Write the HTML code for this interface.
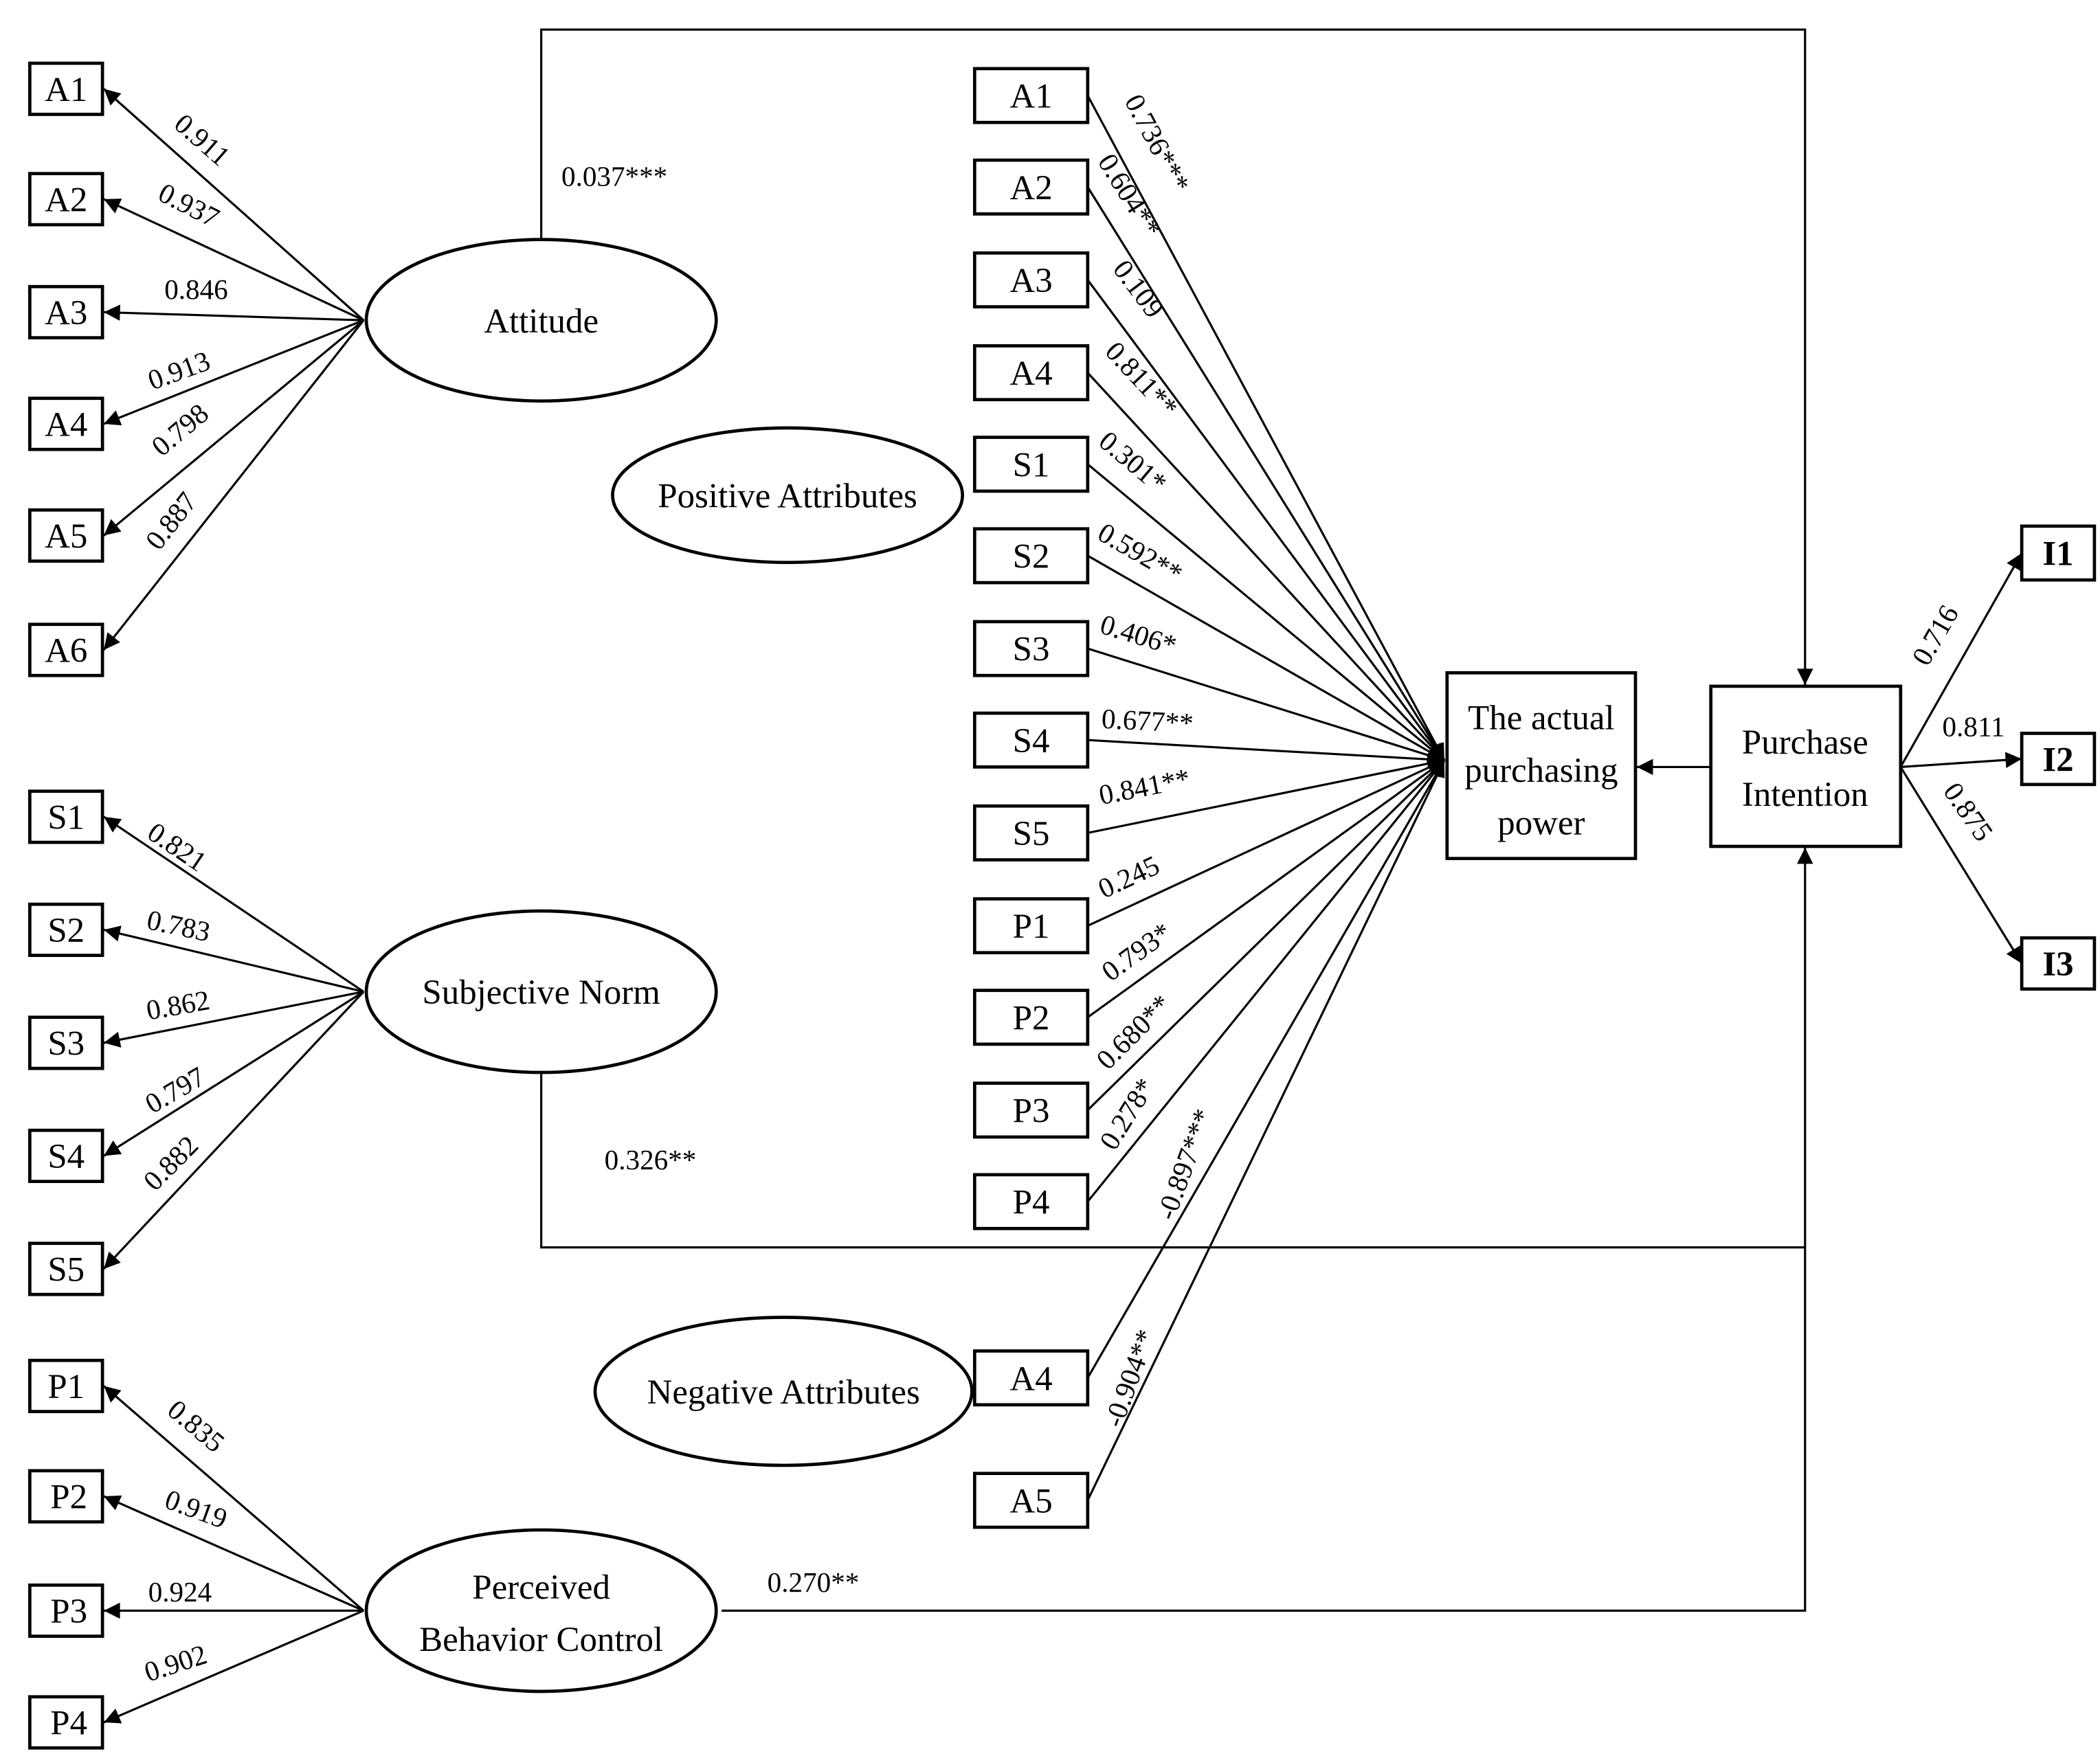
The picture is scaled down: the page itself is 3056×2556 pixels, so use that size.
<!DOCTYPE html>
<html><head><meta charset="utf-8"><style>
html,body{margin:0;padding:0;background:#fff;}
svg{display:block;}
text{font-family:"Liberation Serif",serif;fill:#000;}
</style></head><body>
<svg width="3056" height="2556" viewBox="0 0 1560 1305" xmlns="http://www.w3.org/2000/svg">
<defs>
<marker id="ar" viewBox="0 0 10 10" refX="10" refY="5" markerWidth="9" markerHeight="9" markerUnits="userSpaceOnUse" orient="auto"><path d="M0,0 L10,5 L0,10 z" fill="#000"/></marker>
<marker id="ar2" viewBox="0 0 10 10" refX="10" refY="5" markerWidth="16" markerHeight="12" markerUnits="userSpaceOnUse" orient="auto"><path d="M0,0 L10,5 L0,10 z" fill="#000"/></marker>
</defs>
<g fill="none" stroke="#000" stroke-width="1.6">
<!-- left A arrows -->
<line x1="270" y1="238" x2="77" y2="66" marker-end="url(#ar2)"/>
<line x1="270" y1="238" x2="77" y2="148" marker-end="url(#ar2)"/>
<line x1="270" y1="238" x2="77" y2="232" marker-end="url(#ar2)"/>
<line x1="270" y1="238" x2="77" y2="315" marker-end="url(#ar2)"/>
<line x1="270" y1="238" x2="77" y2="398" marker-end="url(#ar2)"/>
<line x1="270" y1="238" x2="77" y2="483" marker-end="url(#ar2)"/>
<line x1="270" y1="737" x2="77" y2="607" marker-end="url(#ar2)"/>
<line x1="270" y1="737" x2="77" y2="691" marker-end="url(#ar2)"/>
<line x1="270" y1="737" x2="77" y2="775" marker-end="url(#ar2)"/>
<line x1="270" y1="737" x2="77" y2="859" marker-end="url(#ar2)"/>
<line x1="270" y1="737" x2="77" y2="943" marker-end="url(#ar2)"/>
<line x1="270" y1="1197" x2="77" y2="1030" marker-end="url(#ar2)"/>
<line x1="270" y1="1197" x2="77" y2="1112" marker-end="url(#ar2)"/>
<line x1="270" y1="1197" x2="77" y2="1197" marker-end="url(#ar2)"/>
<line x1="270" y1="1197" x2="77" y2="1280" marker-end="url(#ar2)"/>
<!-- middle lines -->
<g marker-end="url(#ar2)">
<line x1="808" y1="71" x2="1073" y2="565"/>
<line x1="808" y1="139" x2="1073" y2="565"/>
<line x1="808" y1="208" x2="1073" y2="565"/>
<line x1="808" y1="277" x2="1073" y2="565"/>
<line x1="808" y1="345" x2="1073" y2="565"/>
<line x1="808" y1="413" x2="1073" y2="565"/>
<line x1="808" y1="482" x2="1073" y2="565"/>
<line x1="808" y1="550" x2="1073" y2="565"/>
<line x1="808" y1="619" x2="1073" y2="565"/>
<line x1="808" y1="688" x2="1073" y2="565"/>
<line x1="808" y1="756" x2="1073" y2="565"/>
<line x1="808" y1="825" x2="1073" y2="565"/>
<line x1="808" y1="893" x2="1073" y2="565"/>
<line x1="808" y1="1024" x2="1073" y2="565"/>
<line x1="808" y1="1115" x2="1073" y2="565"/>
</g>
<!-- structural paths -->
<polyline points="402,178 402,22 1341,22 1341,509" marker-end="url(#ar2)"/>
<polyline points="402,797 402,927 1341,927"/>
<polyline points="536,1197 1341,1197 1341,630" marker-end="url(#ar2)"/>
<line x1="1271" y1="570" x2="1216" y2="570" marker-end="url(#ar2)"/>
<line x1="1412" y1="570" x2="1502" y2="411" marker-end="url(#ar2)"/>
<line x1="1412" y1="570" x2="1502" y2="564" marker-end="url(#ar2)"/>
<line x1="1412" y1="570" x2="1502" y2="716" marker-end="url(#ar2)"/>
</g>
<g fill="#fff" stroke="#000" stroke-width="2.4">
<ellipse cx="402" cy="238" rx="130" ry="60"/>
<ellipse cx="402" cy="737" rx="130" ry="60"/>
<ellipse cx="402" cy="1197" rx="130" ry="60"/>
<ellipse cx="585" cy="368" rx="130" ry="50"/>
<ellipse cx="582" cy="1034" rx="140" ry="55"/>
<rect x="1075" y="500" width="140" height="138"/>
<rect x="1271" y="510" width="141" height="119"/>
<rect x="1502" y="391" width="54" height="40"/>
<rect x="1502" y="545" width="54" height="38"/>
<rect x="1502" y="697" width="54" height="38"/>
</g>
<g fill="#fff" stroke="#000" stroke-width="2.4">
<rect x="22" y="47" width="54" height="38"/><rect x="22" y="129" width="54" height="38"/><rect x="22" y="213" width="54" height="38"/><rect x="22" y="296" width="54" height="38"/><rect x="22" y="379" width="54" height="38"/><rect x="22" y="464" width="54" height="38"/>
<rect x="22" y="588" width="54" height="38"/><rect x="22" y="672" width="54" height="38"/><rect x="22" y="756" width="54" height="38"/><rect x="22" y="840" width="54" height="38"/><rect x="22" y="924" width="54" height="38"/>
<rect x="22" y="1011" width="54" height="38"/><rect x="22" y="1093" width="54" height="38"/><rect x="22" y="1178" width="54" height="38"/><rect x="22" y="1261" width="54" height="38"/>
<rect x="724" y="51" width="84" height="40"/><rect x="724" y="119" width="84" height="40"/><rect x="724" y="188" width="84" height="40"/><rect x="724" y="257" width="84" height="40"/><rect x="724" y="325" width="84" height="40"/><rect x="724" y="393" width="84" height="40"/><rect x="724" y="462" width="84" height="40"/><rect x="724" y="530" width="84" height="40"/><rect x="724" y="599" width="84" height="40"/><rect x="724" y="668" width="84" height="40"/><rect x="724" y="736" width="84" height="40"/><rect x="724" y="805" width="84" height="40"/><rect x="724" y="873" width="84" height="40"/><rect x="724" y="1004" width="84" height="40"/><rect x="724" y="1095" width="84" height="40"/>
</g>
<g font-size="26" text-anchor="middle">
<text x="49" y="75">A1</text><text x="49" y="157">A2</text><text x="49" y="241">A3</text><text x="49" y="324">A4</text><text x="49" y="407">A5</text><text x="49" y="492">A6</text>
<text x="49" y="616">S1</text><text x="49" y="700">S2</text><text x="49" y="784">S3</text><text x="49" y="868">S4</text><text x="49" y="952">S5</text>
<text x="49" y="1039">P1</text><text x="51" y="1121">P2</text><text x="51" y="1206">P3</text><text x="51" y="1289">P4</text>
<text x="766" y="80">A1</text><text x="766" y="148">A2</text><text x="766" y="217">A3</text><text x="766" y="286">A4</text><text x="766" y="354">S1</text><text x="766" y="422">S2</text><text x="766" y="491">S3</text><text x="766" y="559">S4</text><text x="766" y="628">S5</text><text x="766" y="697">P1</text><text x="766" y="765">P2</text><text x="766" y="834">P3</text><text x="766" y="902">P4</text><text x="766" y="1033">A4</text><text x="766" y="1124">A5</text>
<text x="402" y="247">Attitude</text>
<text x="402" y="746">Subjective Norm</text>
<text x="402" y="1188">Perceived</text><text x="402" y="1227">Behavior Control</text>
<text x="585" y="377">Positive Attributes</text>
<text x="582" y="1043">Negative Attributes</text>
<text x="1145" y="542">The actual</text><text x="1145" y="581">purchasing</text><text x="1145" y="620">power</text>
<text x="1341" y="560">Purchase</text><text x="1341" y="599">Intention</text>
<g font-weight="bold"><text x="1529" y="420">I1</text><text x="1529" y="573">I2</text><text x="1529" y="725">I3</text></g>
</g>
<g font-size="21">
<text x="417" y="138">0.037***</text>
<text x="449" y="869">0.326**</text>
<text x="570" y="1183">0.270**</text>
<text x="1443" y="547">0.811</text>
<text transform="translate(1432,496) rotate(-60)">0.716</text>
<text transform="translate(1443,588) rotate(55)">0.875</text>
<!-- left labels -->
<text transform="translate(128,94) rotate(41)">0.911</text>
<text transform="translate(116,148) rotate(27)">0.937</text>
<text x="122" y="222">0.846</text>
<text transform="translate(113,290) rotate(-20)">0.913</text>
<text transform="translate(120,340) rotate(-40)">0.798</text>
<text transform="translate(118,410) rotate(-52)">0.887</text>
<text transform="translate(108,622) rotate(34)">0.821</text>
<text transform="translate(108,690) rotate(12)">0.783</text>
<text transform="translate(110,758) rotate(-10)">0.862</text>
<text transform="translate(113,828) rotate(-30)">0.797</text>
<text transform="translate(115,886) rotate(-45)">0.882</text>
<text transform="translate(123,1050) rotate(40)">0.835</text>
<text transform="translate(121,1120) rotate(20)">0.919</text>
<text x="110" y="1190">0.924</text>
<text transform="translate(110,1250) rotate(-18)">0.902</text>
<!-- middle labels -->
<text transform="translate(835,75) rotate(62)">0.736***</text>
<text transform="translate(815,120) rotate(58)">0.604**</text>
<text transform="translate(826,200) rotate(53)">0.109</text>
<text transform="translate(820,262) rotate(47)">0.811**</text>
<text transform="translate(815,330) rotate(40)">0.301*</text>
<text transform="translate(814,400) rotate(30)">0.592**</text>
<text transform="translate(816,470) rotate(17)">0.406*</text>
<text transform="translate(818,541) rotate(3)">0.677**</text>
<text transform="translate(818,598) rotate(-11)">0.841**</text>
<text transform="translate(820,668) rotate(-25)">0.245</text>
<text transform="translate(825,730) rotate(-36)">0.793*</text>
<text transform="translate(823,796) rotate(-45)">0.680**</text>
<text transform="translate(828,856) rotate(-58)">0.278*</text>
<text transform="translate(872,908) rotate(-70)">-0.897***</text>
<text transform="translate(833,1062) rotate(-70)">-0.904**</text>
</g>
</svg>
</body></html>
